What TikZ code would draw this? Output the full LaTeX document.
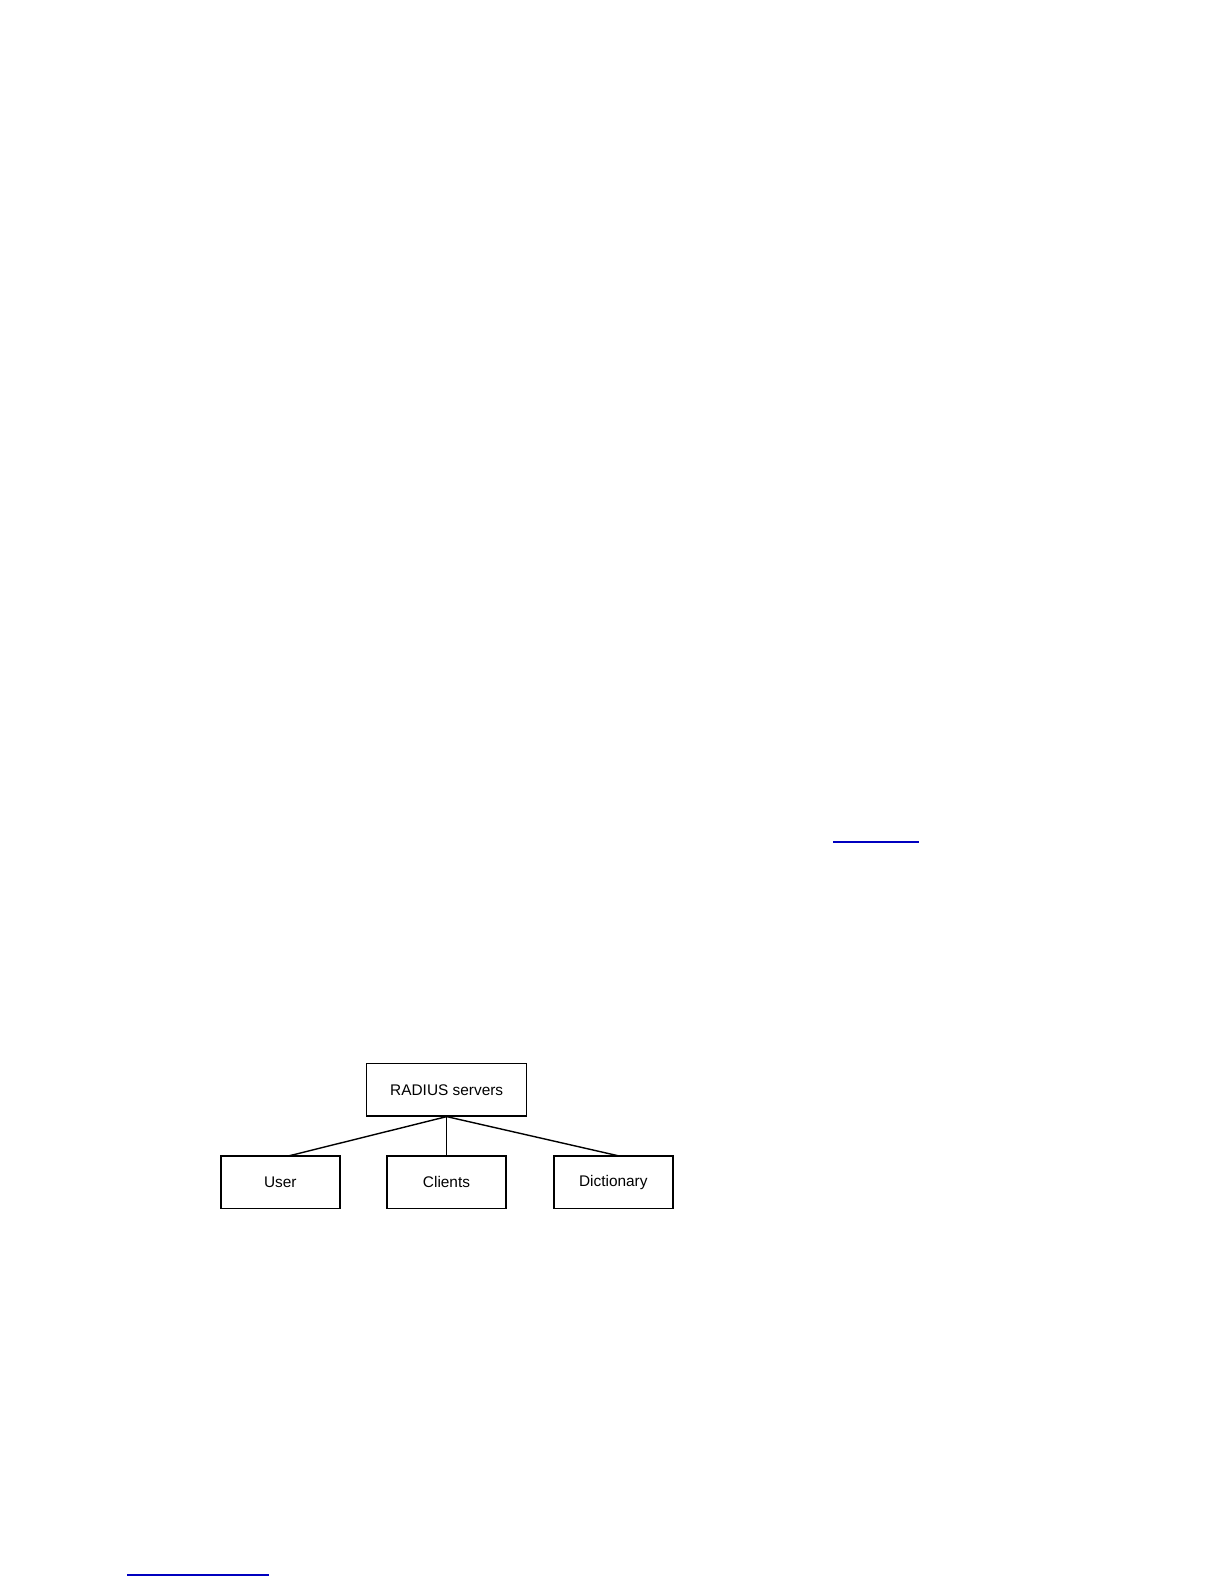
\documentclass[tikz,border=0pt]{standalone}
\usepackage{fontspec}
\setmainfont{Liberation Sans}
\begin{document}
\begin{tikzpicture}[x=0.5pt,y=-0.5pt,
  box/.style={draw=black,line width=0.7pt,minimum width=59.5pt,minimum height=26.2pt,inner sep=0pt,font=\fontsize{7.7}{9}\selectfont},
  wire/.style={draw=black,line width=0.7pt},
  link/.style={draw=blue!75!black,line width=1pt}]
\useasboundingbox (0,0) rectangle (1224,1584);
\node[box,minimum width=80pt] (rad) at (446.7,1089.7) {RADIUS servers};
\node[box] (user) at (280.3,1182.2) {User};
\node[box] (cli) at (446.5,1182.2) {Clients};
\node[box] (dict) at (613.3,1182.2) {Dictionary};
\draw[wire] (rad.south) -- (288.3,1156);
\draw[wire] (rad.south) -- (rad.south |- cli.north);
\draw[wire] (rad.south) -- (619.3,1156);
\coordinate (l1a) at (833.3,842);
\coordinate (l1b) at (919,842);
\draw[link] (l1a) -- (l1b);
\coordinate (l2a) at (127.3,1575);
\coordinate (l2b) at (269,1575);
\draw[link,line width=0.6pt] (l2a) -- (l2b);
\end{tikzpicture}
\end{document}
